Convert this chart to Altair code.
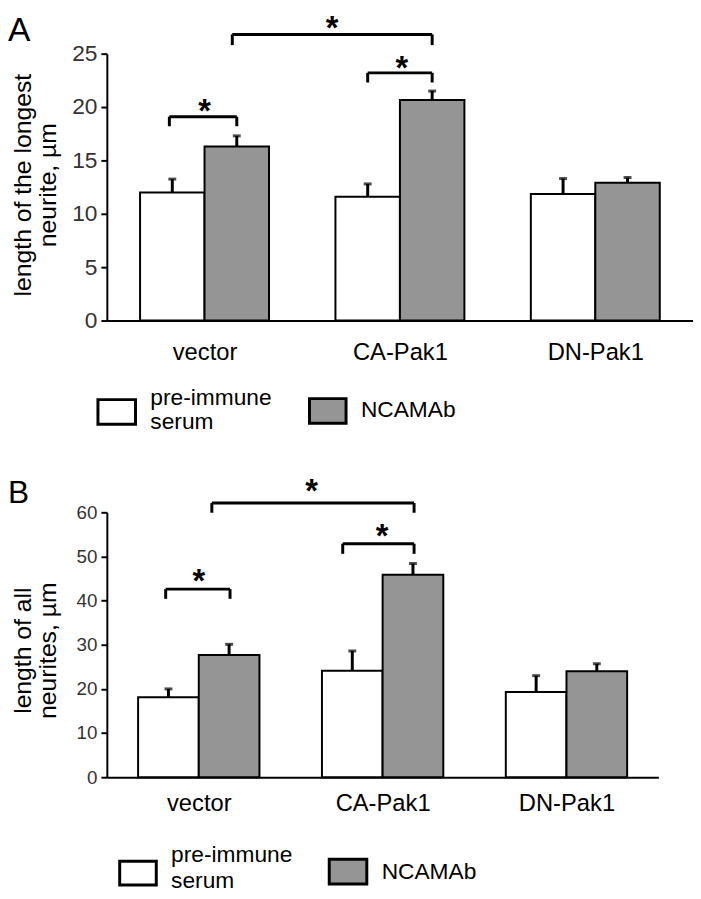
import altair as alt
import pandas as pd

FONT = "Liberation Sans"

categories = ["vector", "CA-Pak1", "DN-Pak1"]
series = ["pre-immune serum", "NCAMAb"]
colors = ["white", "#959595"]

# Panel A: length of the longest neurite (µm)
a_title = ["length of the longest", "neurite, µm"]
a_pre = [12.0, 11.6, 11.85]
a_pre_err = [1.25, 1.2, 1.45]
a_ncam = [16.3, 20.65, 12.9]
a_ncam_err = [1.0, 0.85, 0.5]
a_br_left = [-0.18, 0.835, 0.142]
a_br_right = [0.165, 1.165, 1.165]
a_br_y = [19.1, 23.2, 26.8]
a_br_leg = [18.2, 22.3, 25.8]
a_star_x = [0.0, 1.01, 0.653]
a_star_y = [20.3, 24.3, 28.0]

# Panel B: length of all neurites (µm)
b_title = ["length of all", "neurites, µm"]
b_pre = [18.1, 24.1, 19.3]
b_pre_err = [1.9, 4.5, 3.7]
b_ncam = [27.7, 45.85, 24.0]
b_ncam_err = [2.4, 2.55, 1.7]
b_br_left = [-0.18, 0.783, 0.071]
b_br_right = [0.17, 1.171, 1.171]
b_br_y = [42.6, 52.9, 62.1]
b_br_leg = [40.4, 50.6, 59.9]
b_star_x = [0.0, 0.997, 0.614]
b_star_y = [46.0, 56.1, 66.4]

BAR_W = 0.33
FILL_SCALE = alt.Scale(domain=series, range=colors)


def bar_frame(pre, pre_err, ncam, ncam_err):
    rows = []
    for i, c in enumerate(categories):
        rows.append(dict(cat=c, series=series[0], value=pre[i], err=pre_err[i],
                         x0=i - BAR_W, x1=i, xc=i - BAR_W / 2))
        rows.append(dict(cat=c, series=series[1], value=ncam[i], err=ncam_err[i],
                         x0=i, x1=i + BAR_W, xc=i + BAR_W / 2))
    return pd.DataFrame(rows)


def legend_layers(box_pos, text_pos, lh):
    layers = []
    for i, s in enumerate(series):
        one = pd.DataFrame(dict(series=[s]))
        bx0, bx1, by0, by1 = box_pos[i]
        layers.append(alt.Chart(one).mark_rect(stroke="black", strokeWidth=3).encode(
            x=alt.value(bx0), x2=alt.value(bx1), y=alt.value(by0), y2=alt.value(by1),
            fill=alt.Fill("series:N", scale=FILL_SCALE, legend=None)))
        tx, ty = text_pos[i]
        layers.append(alt.Chart(one).mark_text(
            text=s.split(" "), font=FONT, fontSize=23, align="left", baseline="middle",
            lineHeight=lh, color="black").encode(x=alt.value(tx), y=alt.value(ty)))
    return layers


def title_layers(lines, xs_px, y_px):
    layers = []
    for line, xp in zip(lines, xs_px):
        one = pd.DataFrame(dict(t=[line]))
        layers.append(alt.Chart(one).mark_text(
            font=FONT, fontSize=25, angle=270, align="center", baseline="middle",
            color="black").encode(x=alt.value(xp), y=alt.value(y_px), text="t:N"))
    return layers


def panel(letter, ytitle, pre, pre_err, ncam, ncam_err, bl, br, by, bleg, sx, sy,
          ymax, ystep, w, h, tick_fs, xlab_pad, box_off, text_off, lh,
          letter_fs, letter_y, title_dy):
    df = bar_frame(pre, pre_err, ncam, ncam_err)
    xs = alt.Scale(domain=[-0.5, 2.5], nice=False, zero=False)
    ys = alt.Scale(domain=[0, ymax], nice=False)
    xaxis = alt.Axis(values=[0, 1, 2], title=None, grid=False, ticks=False,
                     labelExpr="['vector','CA-Pak1','DN-Pak1'][datum.value]",
                     labelFontSize=24, labelColor="black", labelPadding=xlab_pad,
                     domainColor="black", domainWidth=2, labelFlush=False)
    yaxis = alt.Axis(values=list(range(0, ymax + 1, ystep)), title=None, grid=False,
                     labelFontSize=tick_fs, labelColor="#333333", labelPadding=4,
                     tickColor="black", tickWidth=2, tickSize=6,
                     domainColor="black", domainWidth=2)

    base = alt.Chart(df)
    bars = base.mark_bar(stroke="black", strokeWidth=2).encode(
        x=alt.X("x0:Q", scale=xs, axis=xaxis),
        x2="x1:Q",
        y=alt.Y("value:Q", scale=ys, axis=yaxis),
        y2=alt.datum(0),
        fill=alt.Fill("series:N", scale=FILL_SCALE, legend=None),
    )
    err = base.transform_calculate(top="datum.value + datum.err")
    err_rule = err.mark_rule(color="black", strokeWidth=3).encode(
        x="xc:Q", y="value:Q", y2="top:Q")
    err_cap = err.mark_tick(color="black", orient="horizontal", size=8, thickness=3).encode(
        x="xc:Q", y="top:Q")

    bdf = pd.DataFrame(dict(l=bl, r=br, y=by, leg=bleg))
    horiz = alt.Chart(bdf).mark_rule(color="black", strokeWidth=3).encode(
        x="l:Q", x2="r:Q", y="y:Q")
    legs_df = pd.DataFrame(dict(x=bl + br, y=by + by, leg=bleg + bleg))
    legs = alt.Chart(legs_df).mark_rule(color="black", strokeWidth=3).encode(
        x="x:Q", y="leg:Q", y2="y:Q")
    sdf = pd.DataFrame(dict(x=sx, y=sy, t=["*"] * len(sx)))
    stars = alt.Chart(sdf).mark_text(fontSize=33, fontWeight="bold", font=FONT,
                                     baseline="middle", dy=8, color="black").encode(
        x="x:Q", y="y:Q", text="t:N")
    ldf = pd.DataFrame(dict(t=[letter]))
    let = alt.Chart(ldf).mark_text(fontSize=letter_fs, font=FONT, align="left",
                                   baseline="top", color="black").encode(
        x=alt.value(-100), y=alt.value(letter_y), text="t:N")

    box_pos = [(x0, x1, h + y0, h + y1) for (x0, x1, y0, y1) in box_off]
    text_pos = [(tx, h + ty) for (tx, ty) in text_off]
    layers = ([bars, err_rule, err_cap, horiz, legs, stars, let]
              + title_layers(ytitle, [-85, -59], h / 2 + title_dy)
              + legend_layers(box_pos, text_pos, lh))
    return alt.layer(*layers).properties(width=w, height=h)


pA = panel("A", a_title, a_pre, a_pre_err, a_ncam, a_ncam_err,
           a_br_left, a_br_right, a_br_y, a_br_leg, a_star_x, a_star_y,
           25, 5, 593, 270, 23, 20,
           [(-9, 29, 80, 105), (205, 242, 79, 104)], [(44, 78), (257, 91)], 25,
           34, -40, -2)
pB = panel("B", b_title, b_pre, b_pre_err, b_ncam, b_ncam_err,
           b_br_left, b_br_right, b_br_y, b_br_leg, b_star_x, b_star_y,
           60, 10, 558, 268, 19, 15,
           [(13, 50, 85, 109), (225, 263, 83, 108)], [(65, 79), (278, 96)], 26,
           32, -34, 6)

chart = alt.vconcat(pA, pB, spacing=42).resolve_scale(
    x="independent", y="independent"
).configure_view(stroke=None).configure_axis(
    labelFont=FONT
).properties(background="white", padding=0)

chart.save("out.html", embed_options={"renderer": "svg", "actions": False})
